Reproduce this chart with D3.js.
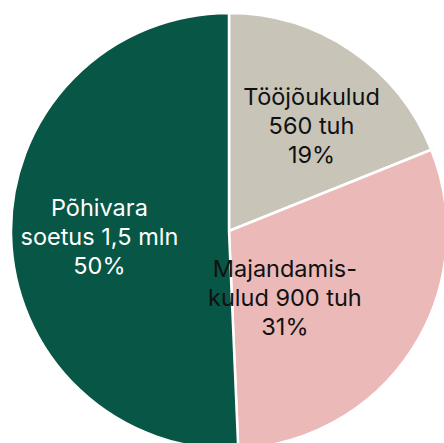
<!DOCTYPE html>
<html><head><meta charset="utf-8">
<script src="https://cdn.jsdelivr.net/npm/d3@7"></script>
<style>html,body{margin:0;padding:0;background:#fff;overflow:hidden}svg{display:block}</style>
</head><body>
<script>
const categories = ["Tööjõukulud", "Majandamiskulud", "Põhivara soetus"];
const values = [560, 900, 1500];
const labelLines = [
  ["Tööjõukulud", "560 tuh", "19%"],
  ["Majandamis-", "kulud 900 tuh", "31%"],
  ["Põhivara", "soetus 1,5 mln", "50%"]
];
const colors = ["#C8C4B8", "#EBB9B8", "#085645"];
const textColors = ["#111111", "#111111", "#ffffff"];
// label placement (middle-line baseline): [fraction of radius, angle in degrees clockwise from top]
const labelPlace = [[0.584, 40.4], [0.429, 143.3], [0.598, 263.8]];

const W = 444, H = 443, cx = 229, cy = 231, R = 218;
const svg = d3.select("body").append("svg").attr("width", W).attr("height", H);
const g = svg.append("g").attr("transform", `translate(${cx},${cy})`);
const pie = d3.pie().sort(null).value(d => d)(values);
const arc = d3.arc().innerRadius(0).outerRadius(R);
g.selectAll("path").data(pie).join("path")
  .attr("d", arc).attr("fill", (d, i) => colors[i])
  .attr("stroke", "#fff").attr("stroke-width", 2.5).attr("stroke-linejoin", "round");

const lh = 28.7;
labelLines.forEach((lines, i) => {
  const [f, a] = labelPlace[i];
  const rad = a * Math.PI / 180;
  const x = Math.sin(rad) * f * R, y = -Math.cos(rad) * f * R;
  const t = g.append("text").attr("text-anchor", "middle")
    .attr("font-family", "Inter, 'Noto Sans', sans-serif").attr("font-size", 23.5)
    .attr("fill", textColors[i]);
  lines.forEach((s, k) => {
    t.append("tspan").attr("x", x).attr("y", y + (k - 1) * lh).text(s);
  });
});
</script>
</body></html>
